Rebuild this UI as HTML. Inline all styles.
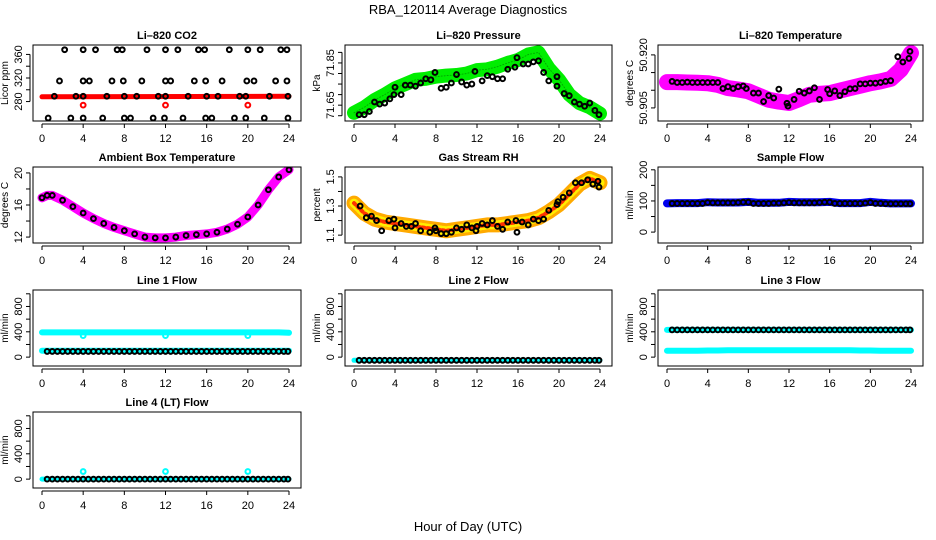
<!DOCTYPE html>
<html><head><meta charset="utf-8"><style>
html,body{margin:0;padding:0;background:#fff}
svg{display:block;font-family:"Liberation Sans",Arial,sans-serif}
</style></head><body>
<svg id="c" width="936" height="540" viewBox="0 0 936 540">
<text x="468" y="14" text-anchor="middle" font-size="13">RBA_120114  Average Diagnostics</text>
<text x="468" y="531" text-anchor="middle" font-size="13">Hour of Day (UTC)</text>
</svg>
<script>
const xTicks=[0,4,8,12,16,20,24];
const hours=[0,1,2,3,4,5,6,7,8,9,10,11,12,13,14,15,16,17,18,19,20,21,22,23,24];
const halfHours=[0.5,1,1.5,2,2.5,3,3.5,4,4.5,5,5.5,6,6.5,7,7.5,8,8.5,9,9.5,10,10.5,11,11.5,12,12.5,13,13.5,14,14.5,15,15.5,16,16.5,17,17.5,18,18.5,19,19.5,20,20.5,21,21.5,22,22.5,23,23.5,23.9];
// CO2
const co2BlackT=[2.2,4,5.2,7.3,7.8,10.2,12,13.2,15.2,15.8,18.2,20,21.2,23.2,23.8, 1.7,4,4.6,6.8,7.9,9.7,12,12.5,14.8,15.9,17.5,19.9,20.6,22.7,23.8, 1.2,3.3,4,6.3,8,9.2,11.3,12,14.2,16,17.1,19.2,19.8,22.1,23.9, 0.6,2.8,4,5.9,8,8.6,10.8,11.9,13.7,15.9,16.5,18.7,19.8,21.6,23.9];
const co2BlackV=[368,368,368,368,368,368,368,368,368,368,368,368,368,368,368, 315,315,315,315,315,315,315,315,315,315,315,315,315,315,315, 289,289,289,289,289,289,289,289,289,289,289,289,289,289,289, 252,252,252,252,252,252,252,252,252,252,252,252,252,252,252];
const co2RedT=[0,24];
const co2RedV=[288,289];
const co2OutT=[4,12,20];
const co2OutV=[274,274,274];
// Pressure
const presBand=[71.614,71.64,71.674,71.70,71.73,71.75,71.77,71.775,71.785,71.79,71.793,71.80,71.816,71.82,71.832,71.85,71.864,71.89,71.90,71.824,71.77,71.70,71.66,71.64,71.61];
const presT=[0.5,1,1.5,2,2.5,3,3.5,3.9,4,4.6,5,5.5,6,6.5,7,7.5,7.9,8.5,9,9.5,10,10.5,11,11.5,11.8,12.5,13,13.5,14,14.5,15,15.7,15.9,16.5,17,17.5,18,18.5,19,19.8,19.8,20.5,21,21.5,22,22.5,23,23.5,23.9];
const presV=[71.605,71.605,71.62,71.665,71.655,71.66,71.68,71.70,71.735,71.70,71.745,71.745,71.74,71.755,71.775,71.77,71.805,71.73,71.735,71.755,71.795,71.76,71.745,71.75,71.81,71.765,71.79,71.785,71.775,71.775,71.82,71.83,71.875,71.845,71.845,71.855,71.86,71.805,71.765,71.74,71.785,71.705,71.695,71.665,71.655,71.645,71.66,71.625,71.605];
// Li-820 Temperature
const tempBand=[50.9123,50.9123,50.9122,50.9121,50.912,50.9115,50.9106,50.9102,50.9097,50.9085,50.9073,50.9068,50.9064,50.9075,50.9087,50.909,50.9092,50.9099,50.9106,50.9113,50.912,50.9125,50.9132,50.9158,50.9205];
const tempT=[0.5,1,1.5,2,2.5,3,3.5,4,4.5,5,5.5,6,6.5,7,7.5,7.8,8.5,9,9.5,10,10.5,11,11.8,11.9,12.5,13,13.5,14,14.5,15,15.8,16,16.5,17,17.5,18,18.5,19,19.5,20,20.5,21,21.5,22,22.7,23.2,23.8,23.9];
const tempV=[50.9125,50.9122,50.9122,50.9123,50.9122,50.9122,50.9122,50.9122,50.9122,50.9122,50.9105,50.911,50.9105,50.911,50.9112,50.9105,50.9092,50.9092,50.9068,50.9085,50.9078,50.9103,50.9063,50.9055,50.9074,50.9097,50.9092,50.9098,50.9107,50.9074,50.9102,50.909,50.9098,50.9085,50.9096,50.9104,50.9105,50.9118,50.9118,50.912,50.912,50.9122,50.9125,50.9127,50.9195,50.918,50.919,50.921];
// Ambient
const ambT=[0,0.5,1,2,3,4,5,6,7,8,9,10,11,12,13,14,15,16,17,18,19,20,21,22,23,24];
const ambV=[16.9,17.2,17.2,16.6,15.8,15.0,14.3,13.7,13.2,12.8,12.4,12.0,11.9,11.9,12.0,12.2,12.3,12.4,12.6,13.0,13.6,14.5,16.0,17.9,19.5,20.4];
// RH
const rhBand=[1.32,1.25,1.21,1.19,1.18,1.17,1.16,1.15,1.14,1.13,1.14,1.15,1.16,1.17,1.17,1.18,1.19,1.20,1.22,1.26,1.31,1.38,1.45,1.49,1.46];
const rhT=[0.6,1.2,1.7,2.2,2.7,3.4,3.9,4,4.6,5.1,5.6,6,6.5,7.4,7.9,8,8.5,9,9.5,10,10.5,11,11.5,11.9,12,12.5,13,13.5,14,14.5,15,15.8,15.9,16.4,17,17.5,18,18.5,19,19.8,19.9,20.4,21,21.6,22.2,22.8,23.3,23.8,23.9];
const rhV=[1.30,1.22,1.23,1.20,1.13,1.20,1.21,1.15,1.18,1.16,1.16,1.18,1.13,1.12,1.15,1.13,1.11,1.11,1.12,1.15,1.14,1.17,1.15,1.13,1.16,1.18,1.17,1.20,1.16,1.14,1.19,1.20,1.12,1.19,1.17,1.21,1.20,1.21,1.27,1.31,1.33,1.36,1.39,1.46,1.46,1.48,1.45,1.47,1.43];
// Sample flow
const sampBand=[92,93,93,93,96,95,95,95,97,94,94,94,97,96,96,96,97,93,93,93,97,94,92,92,92];
const sampV=[92,92,92,92,92,92,92,95,94,94,94,94,94,95,96,96,92,92,92,92,93,93,94,95,94,94,94,94,94,95,96,96,92,92,92,92,92,92,93,95,92,92,91,91,91,91,91,91];
// Line flows
const l1Hi=[390,390,390,390,390,390,390,390,390,390,390,390,390,390,390,390,390,390,390,390,390,390,390,390,385];
const l1Lo=[100,100,100,100,100,100,100,100,100,100,100,100,100,100,100,100,100,100,100,100,100,100,100,100,100];
const l1Black=[90,90,90,90,90,90,90,90,90,90,90,90,90,90,90,90,90,90,90,90,90,90,90,90,90,90,90,90,90,90,90,90,90,90,90,90,90,90,90,90,90,90,90,90,90,90,90,90];
const l1OutT=[4,12,20];
const l1OutV=[340,340,340];
const l2Band=[-50,-50,-50,-50,-50,-50,-50,-50,-50,-50,-50,-50,-50,-50,-50,-50,-50,-50,-50,-50,-50,-50,-50,-50,-50];
const l2Black=[-50,-50,-50,-50,-50,-50,-50,-50,-50,-50,-50,-50,-50,-50,-50,-50,-50,-50,-50,-50,-50,-50,-50,-50,-50,-50,-50,-50,-50,-50,-50,-50,-50,-50,-50,-50,-50,-50,-50,-50,-50,-50,-50,-50,-50,-50,-50,-50];
const l3Hi=[430,430,430,430,430,430,430,430,430,430,430,430,430,430,430,430,430,430,430,430,430,430,430,430,430];
const l3Lo=[100,100,100,100,105,105,110,110,110,110,110,110,110,110,110,110,110,110,110,105,105,100,100,100,100];
const l3Black=[430,430,430,430,430,430,430,430,430,430,430,430,430,430,430,430,430,430,430,430,430,430,430,430,430,430,430,430,430,430,430,430,430,430,430,430,430,430,430,430,430,430,430,430,430,430,430,430];
const l4Band=[0,0,0,0,0,0,0,0,0,0,0,0,0,0,0,0,0,0,0,0,0,0,0,0,0];
const l4Black=[0,0,0,0,0,0,0,0,0,0,0,0,0,0,0,0,0,0,0,0,0,0,0,0,0,0,0,0,0,0,0,0,0,0,0,0,0,0,0,0,0,0,0,0,0,0,0,0];
const l4OutT=[4,12,20];
const l4OutV=[120,120,120];
const flowTicks=[0,200,400,600,800,1000];
const flowLabels=[0,400,800];

const NS="http://www.w3.org/2000/svg";
const svg=document.getElementById('c');
function mk(tag,attrs,parent){const e=document.createElementNS(NS,tag);for(const k in attrs)e.setAttribute(k,attrs[k]);(parent||svg).appendChild(e);return e;}
const cols=[[33,301],[345,612],[658,923]];
const rows=[45,167,290,412];
const H=76;
let clipN=0;
function panel(key,col,row,title,ylab,ymin,ymax,yTicks,yLabels){
  const [L,R]=cols[col];const T=rows[row];const B=T+H;
  const g=mk('g',{});
  
  
  const x=t=>L+9+(t)*(R-12-(L+9))/24;
  const y=v=>B-(v-ymin)/(ymax-ymin)*H;
  const cid='cl'+(clipN++);
  const cp=mk('clipPath',{id:cid},g);mk('rect',{x:L,y:T,width:R-L,height:H},cp);
  const plot=mk('g',{'clip-path':'url(#'+cid+')'},g);
  
  
  const tt=mk('text',{x:(L+R)/2,y:T-6,'text-anchor':'middle','font-size':11,'font-weight':'bold'},g);tt.textContent=title;
  
  
  const box=mk('rect',{x:L,y:T,width:R-L,height:H,fill:'none',stroke:'#000','stroke-width':1},g);
  
  
  const xa=mk('g',{},g);
  
  
  mk('line',{x1:x(0),x2:x(24),y1:B+3,y2:B+3,stroke:'#000'},xa);
  xTicks.forEach(t=>{mk('line',{x1:x(t),x2:x(t),y1:B+3,y2:B+7,stroke:'#000'},xa);
    const lb=mk('text',{x:x(t),y:B+21,'text-anchor':'middle','font-size':11},xa);lb.textContent=t;
    
    });
  const ya=mk('g',{},g);
  
  
  mk('line',{x1:L-3,x2:L-3,y1:y(yTicks[0]),y2:y(yTicks[yTicks.length-1]),stroke:'#000'},ya);
  yTicks.forEach(v=>mk('line',{x1:L-7,x2:L-3,y1:y(v),y2:y(v),stroke:'#000'},ya));
  yLabels.forEach(v=>{const lb=mk('text',{x:0,y:0,'text-anchor':'middle','font-size':11,transform:`translate(${L-11},${y(v)}) rotate(-90)`},ya);lb.textContent=v;
    
    });
  const yt=mk('text',{x:0,y:0,'text-anchor':'middle','font-size':10,transform:`translate(${L-25},${(T+B)/2}) rotate(-90)`},g);yt.textContent=ylab;
  
  
  return {x,y,plot};
}
function band(p,ts,vs,color,w,name){
  const pts=ts.map((t,i)=>p.x(t).toFixed(1)+','+p.y(vs[i]).toFixed(1)).join(' ');
  const e=mk('polyline',{points:pts,fill:'none',stroke:color,'stroke-width':w,'stroke-linejoin':'round','stroke-linecap':'round'},p.plot);
  
  
  return e;
}
function pts(p,ts,vs,color,name,r){
  ts.forEach((t,i)=>{const c=mk('circle',{cx:p.x(t),cy:p.y(vs[i]),r:r||2.4,fill:'none',stroke:color,'stroke-width':2},p.plot);
    
    });
}
// CO2
let p=panel('co2',0,0,'Li\u2013820 CO2','Licor ppm',247,376,[280,300,320,340,360],[280,320,360]);
band(p,co2RedT,co2RedV,'#ff0000',5,'co2-band');
pts(p,co2OutT,co2OutV,'#ff0000','co2-outlier');
pts(p,co2BlackT,co2BlackV,'#000','co2-point');
// Pressure
p=panel('pressure',1,0,'Li\u2013820 Pressure','kPa',71.575,71.935,[71.60,71.65,71.70,71.75,71.80,71.85,71.90],['71.65','71.85']);
band(p,hours,presBand,'#00ee00',14,'pressure-band');
band(p,hours,presBand,'#00aa00',1,'pressure-band-core').setAttribute('stroke-dasharray','1 2');
pts(p,presT,presV,'#000','pressure-point');
// Temperature
p=panel('li820-temp',2,0,'Li\u2013820 Temperature','degrees C',50.9013,50.9228,[50.905,50.910,50.915,50.920],['50.905','50.920']);
band(p,hours,tempBand,'#ff00ff',16,'temperature-band');
pts(p,tempT,tempV,'#000','temperature-point');
// Ambient
p=panel('ambient',0,1,'Ambient Box Temperature','degrees C',11.26,20.74,[12,14,16,18,20],[12,16,20]);
band(p,ambT,ambV,'#ff00ff',9,'ambient-band');
pts(p,ambT,ambV,'#000','ambient-point');
// RH
p=panel('rh',1,1,'Gas Stream RH','percent',1.046,1.568,[1.1,1.2,1.3,1.4,1.5],['1.1','1.3','1.5']);
band(p,hours,rhBand,'#ffaa00',15,'rh-band');
band(p,hours,rhBand,'#ffee00',9,'rh-band-mid').setAttribute('stroke-dasharray','2 2');
band(p,hours,rhBand,'#ff3300',4,'rh-band-core').setAttribute('stroke-dasharray','2 3');
pts(p,rhT,rhV,'#000','rh-point');
// Sample flow
p=panel('sample-flow',2,1,'Sample Flow','ml/min',-35,209,[0,50,100,150,200],[0,100,200]);
band(p,hours,sampBand,'#0000ee',8,'sample-flow-band');
pts(p,halfHours,sampV,'#000','sample-flow-point');
// Line 1
p=panel('line1-flow',0,2,'Line 1 Flow','ml/min',-140,1060,flowTicks,flowLabels);
band(p,hours,l1Hi,'#00ffff',6,'line1-band-high');
band(p,hours,l1Lo,'#00ffff',6,'line1-band-low');
pts(p,l1OutT,l1OutV,'#00ffff','line1-outlier');
pts(p,halfHours,l1Black,'#000','line1-point');
// Line 2
p=panel('line2-flow',1,2,'Line 2 Flow','ml/min',-140,1060,flowTicks,flowLabels);
band(p,hours,l2Band,'#00ffff',5,'line2-band');
pts(p,halfHours,l2Black,'#000','line2-point');
// Line 3
p=panel('line3-flow',2,2,'Line 3 Flow','ml/min',-140,1060,flowTicks,flowLabels);
band(p,hours,l3Hi,'#00ffff',6,'line3-band-high');
band(p,hours,l3Lo,'#00ffff',6,'line3-band-low');
pts(p,halfHours,l3Black,'#000','line3-point');
// Line 4
p=panel('line4-flow',0,3,'Line 4 (LT) Flow','ml/min',-140,1060,flowTicks,flowLabels);
band(p,hours,l4Band,'#00ffff',5,'line4-band');
pts(p,l4OutT,l4OutV,'#00ffff','line4-outlier');
pts(p,halfHours,l4Black,'#000','line4-point');
</script>
</body></html>
